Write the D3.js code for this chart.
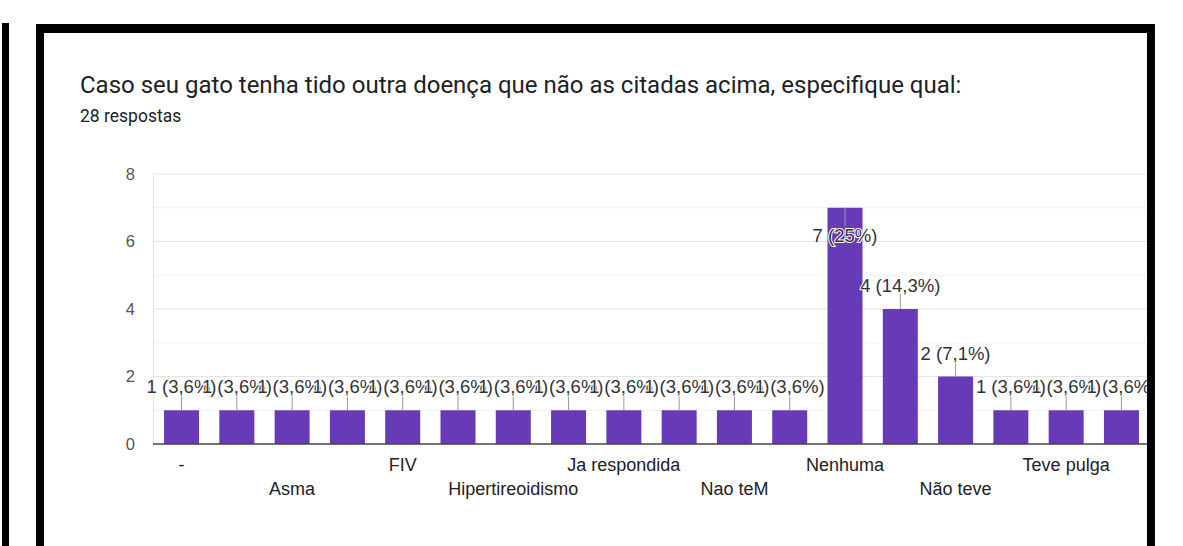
<!DOCTYPE html>
<html>
<head>
<meta charset="utf-8">
<script src="https://cdn.jsdelivr.net/npm/d3@7"></script>
<style>
  body { margin: 0; background: #fff; }
  svg { display: block; }
</style>
</head>
<body>
<div id="chart"></div>
<script>
var width = 1183;
var height = 546;

// answers in the order the form lists them; only every other label is readable
var categories = ["-", "", "Asma", "", "FIV", "", "Hipertireoidismo", "", "Ja respondida", "",
    "Nao teM", "", "Nenhuma", "", "Não teve", "", "Teve pulga", ""];
var counts = [1, 1, 1, 1, 1, 1, 1, 1, 1, 1, 1, 1, 7, 4, 2, 1, 1, 1];
var yTicks = [0, 2, 4, 6, 8];
var gridValues = [1, 2, 3, 4, 5, 6, 7, 8];

var title = "Caso seu gato tenha tido outra doença que não as citadas acima, especifique qual:";
var total = d3.sum(counts);

var svg = d3.select("#chart").append("svg")
    .attr("width", width)
    .attr("height", height);

svg.append("rect")
    .attr("width", width)
    .attr("height", height)
    .attr("fill", "#fff");

svg.append("defs").append("clipPath")
    .attr("id", "frame")
    .append("rect")
    .attr("x", 44)
    .attr("y", 33)
    .attr("width", 1147 - 44)
    .attr("height", height - 33);

var g = svg.append("g").attr("clip-path", "url(#frame)");

// heading
g.append("text")
    .attr("x", 80)
    .attr("y", 93)
    .attr("font-family", "Roboto")
    .attr("font-size", 24)
    .attr("fill", "#202124")
    .text(title);

g.append("text")
    .attr("x", 80)
    .attr("y", 122)
    .attr("font-family", "Roboto")
    .attr("font-size", 17.5)
    .attr("fill", "#202124")
    .text(total + " respostas");

var x = d3.scaleBand()
    .domain(d3.range(categories.length))
    .range([153, 1150])
    .paddingInner(0.367)
    .paddingOuter(0.2);

var y = d3.scaleLinear()
    .domain([0, 8])
    .range([444, 174]);

var cx = function (i) { return x(i) + x.bandwidth() / 2; };

// gridlines
g.selectAll("line.grid")
    .data(gridValues)
    .enter().append("line")
    .attr("class", "grid")
    .attr("x1", 153)
    .attr("x2", 1150)
    .attr("y1", function (d) { return y(d); })
    .attr("y2", function (d) { return y(d); })
    .attr("stroke", function (d) { return d % 2 === 0 ? "#e4e4e4" : "#f1f1f1"; })
    .attr("stroke-width", 1.2);

g.append("line")
    .attr("x1", 153.5)
    .attr("x2", 153.5)
    .attr("y1", y(8))
    .attr("y2", y(0))
    .attr("stroke", "#e4e4e4")
    .attr("stroke-width", 1.2);

// y axis labels
g.selectAll("text.ytick")
    .data(yTicks)
    .enter().append("text")
    .attr("class", "ytick")
    .attr("x", 135)
    .attr("y", function (d) { return y(d); })
    .attr("dy", "0.36em")
    .attr("text-anchor", "end")
    .attr("font-family", "Arial, 'Liberation Sans'")
    .attr("font-size", 16.5)
    .attr("fill", "#555")
    .text(function (d) { return d; });

// bars
g.selectAll("rect.bar")
    .data(counts)
    .enter().append("rect")
    .attr("class", "bar")
    .attr("x", function (d, i) { return x(i); })
    .attr("y", function (d) { return y(d); })
    .attr("width", x.bandwidth())
    .attr("height", function (d) { return y(0) - y(d); })
    .attr("fill", "#673ab7");

// baseline
g.append("line")
    .attr("x1", 153)
    .attr("x2", 1150)
    .attr("y1", y(0))
    .attr("y2", y(0))
    .attr("stroke", "#444")
    .attr("stroke-width", 1.6);

// x labels, every other one, alternating between two rows
var shown = d3.range(0, categories.length, 2);
g.selectAll("text.xlabel")
    .data(shown)
    .enter().append("text")
    .attr("class", "xlabel")
    .attr("x", function (i) { return cx(i); })
    .attr("y", function (i) { return (i / 2) % 2 === 0 ? 471 : 495; })
    .attr("text-anchor", "middle")
    .attr("font-family", "Arial, 'Liberation Sans'")
    .attr("font-size", 18)
    .attr("fill", "#222")
    .text(function (i) { return categories[i]; });

// annotations: stem + "n (p%)"
var maxCount = d3.max(counts);
var pct = function (v) {
    var s = d3.format(".1f")(v / total * 100).replace(".", ",");
    return s.replace(/,0$/, "");
};

var ann = g.selectAll("g.ann")
    .data(counts)
    .enter().append("g")
    .attr("class", "ann");

ann.append("line")
    .attr("x1", function (d, i) { return cx(i); })
    .attr("x2", function (d, i) { return cx(i); })
    .attr("y1", function (d) { return y(d); })
    .attr("y2", function (d) { return d === maxCount ? y(d) + 19 : y(d) - 15; })
    .attr("stroke", "#999")
    .attr("stroke-width", 1);

ann.append("text")
    .attr("x", function (d, i) { return cx(i); })
    .attr("y", function (d) { return d === maxCount ? y(d) + 34 : y(d) - 17; })
    .attr("text-anchor", "middle")
    .attr("font-family", "Arial, 'Liberation Sans'")
    .attr("font-size", 18.5)
    .attr("fill", "#333")
    .attr("stroke", "#fff")
    .attr("stroke-width", 2)
    .attr("paint-order", "stroke")
    .text(function (d) { return d + " (" + pct(d) + "%)"; });

// black frame of the screenshot
var frame = [
    [2, 23, 7, height - 23],
    [36, 24, 8, height - 24],
    [36, 24, 1155 - 36, 9],
    [1147, 24, 8, height - 24]
];
svg.selectAll("rect.frame")
    .data(frame)
    .enter().append("rect")
    .attr("class", "frame")
    .attr("x", function (d) { return d[0]; })
    .attr("y", function (d) { return d[1]; })
    .attr("width", function (d) { return d[2]; })
    .attr("height", function (d) { return d[3]; })
    .attr("fill", "#000");
</script>
</body>
</html>
